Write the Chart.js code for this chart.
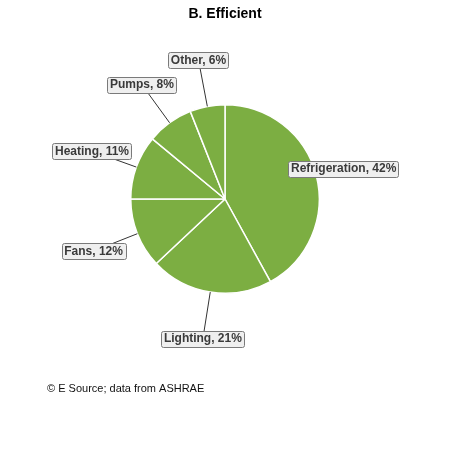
<!DOCTYPE html>
<html>
<head>
<meta charset="utf-8">
<script src="https://cdn.jsdelivr.net/npm/chart.js@4.4.1/dist/chart.umd.min.js"></script>
<style>
  html, body { margin: 0; padding: 0; background: #fff; }
  #wrap { width: 450px; height: 450px; }
</style>
</head>
<body>
<div id="wrap"><canvas id="pie"></canvas></div>
<script>
// Dados do gráfico
const categories = ['Refrigeration', 'Lighting', 'Fans', 'Heating', 'Pumps', 'Other'];
const shares = [42, 21, 12, 11, 8, 6];

// Etiquetas com linha de chamada
const calloutLabels = {
    id: 'calloutLabels',
    afterDatasetsDraw(chart, args, opts) {
        const ctx = chart.ctx;
        const arcs = chart.getDatasetMeta(0).data;
        ctx.save();
        ctx.font = 'bold 12px "Liberation Sans", Arial, sans-serif';
        ctx.textAlign = 'center';
        ctx.textBaseline = 'middle';
        arcs.forEach((arc, i) => {
            const p = arc.getProps(['x', 'y', 'startAngle', 'endAngle', 'outerRadius'], true);
            const mid = (p.startAngle + p.endAngle) / 2;
            const factor = (opts.radius && opts.radius[i]) || 1.5;
            const ex = p.x + Math.cos(mid) * p.outerRadius;
            const ey = p.y + Math.sin(mid) * p.outerRadius;
            const lx = p.x + Math.cos(mid) * p.outerRadius * factor;
            const ly = p.y + Math.sin(mid) * p.outerRadius * factor;

            ctx.strokeStyle = '#333';
            ctx.lineWidth = 1;
            ctx.beginPath();
            ctx.moveTo(ex, ey);
            ctx.lineTo(lx, ly);
            ctx.stroke();

            const text = categories[i] + ', ' + shares[i] + '%';
            const w = ctx.measureText(text).width + 5;
            const h = 16;
            ctx.beginPath();
            ctx.roundRect(Math.round(lx - w / 2) + 0.5, Math.round(ly - h / 2) + 0.5, Math.round(w), h, 2);
            ctx.fillStyle = '#efefef';
            ctx.fill();
            ctx.strokeStyle = '#7a7a7a';
            ctx.stroke();
            ctx.fillStyle = '#3a3a3a';
            ctx.fillText(text, lx, ly + 0.5);
        });

        // Fonte
        ctx.font = '11px "Liberation Sans", Arial, sans-serif';
        ctx.textAlign = 'left';
        ctx.fillStyle = '#111';
        ctx.fillText('\u00A9 E Source; data from ASHRAE', 47, 389);
        ctx.restore();
    }
};

new Chart(document.getElementById('pie'), {
    type: 'pie',
    data: {
        labels: categories,
        datasets: [{
            data: shares,
            backgroundColor: '#7cae42',
            borderColor: '#ffffff',
            borderWidth: 1.5
        }]
    },
    options: {
        responsive: true,
        maintainAspectRatio: false,
        animation: false,
        layout: {
            padding: { left: 130, right: 130, top: 0, bottom: 156 }
        },
        plugins: {
            legend: { display: false },
            tooltip: { enabled: false },
            title: {
                display: true,
                text: 'B. Efficient',
                color: '#000',
                font: { family: '"Liberation Sans", Arial, sans-serif', size: 14, weight: 'bold' },
                padding: { top: 6, bottom: 81.2 }
            },
            calloutLabels: {
                radius: [1.3, 1.5, 1.5, 1.5, 1.5, 1.5]
            }
        }
    },
    plugins: [calloutLabels]
});
</script>
</body>
</html>
